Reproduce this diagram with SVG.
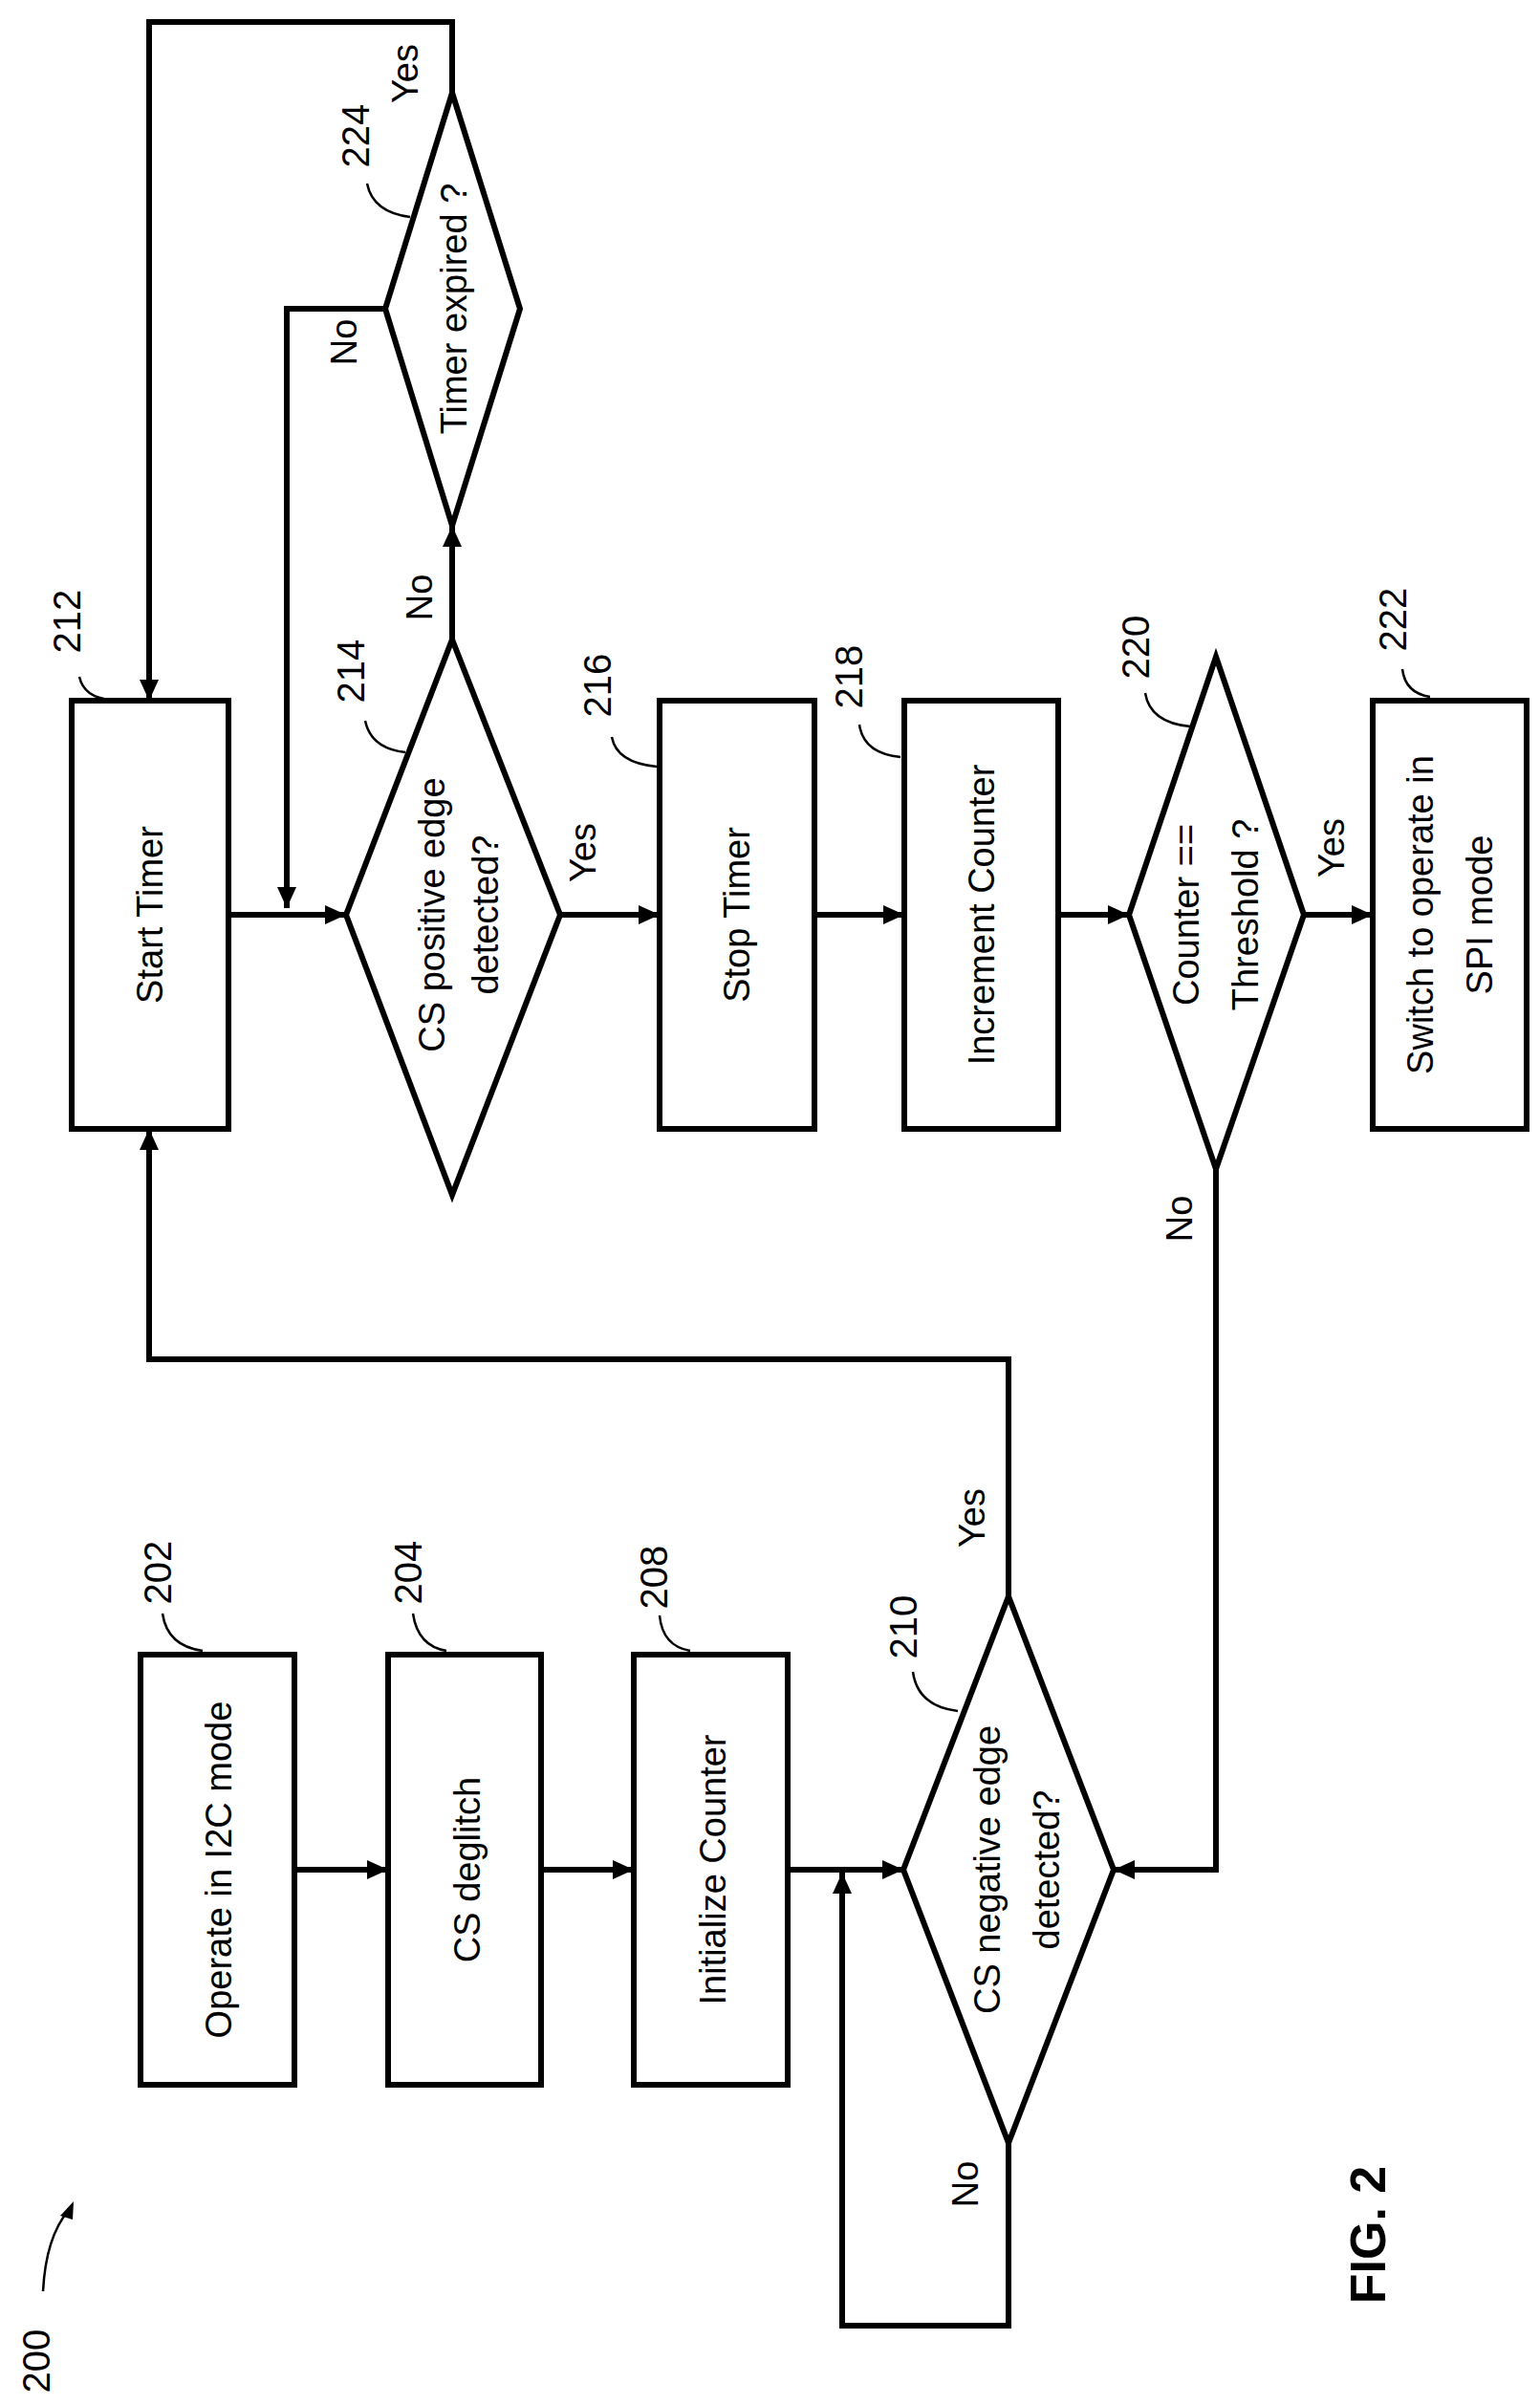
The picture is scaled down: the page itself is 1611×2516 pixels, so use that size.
<svg xmlns="http://www.w3.org/2000/svg" width="1611" height="2516" viewBox="0 0 1611 2516">
<style>
.n{fill:#fff;stroke:#000;stroke-width:6}
.c{fill:none;stroke:#000;stroke-width:6}
.l{fill:none;stroke:#000;stroke-width:2.5}
text{font-family:"Liberation Sans",Arial,sans-serif;font-size:38px;text-anchor:middle;dominant-baseline:central;fill:#000}
.f{font-size:52px;font-weight:bold}
.r{font-size:40px}
</style>
<defs>
<marker id="a" markerUnits="userSpaceOnUse" markerWidth="22" markerHeight="20" refX="22" refY="10" orient="auto"><path d="M0,0 L22,10 L0,20 z" fill="#000"/></marker>
</defs>
<rect width="1611" height="2516" fill="#fff"/>
<g id="connectors">
<path class="c" d="M308,1956 H406" marker-end="url(#a)"/>
<path class="c" d="M566,1956 H663" marker-end="url(#a)"/>
<path class="c" d="M824,1956 H945" marker-end="url(#a)"/>
<path class="c" d="M1055,2242 V2433 H881 V1959" marker-end="url(#a)"/>
<path class="c" d="M1272,1223 V1956 H1165" marker-end="url(#a)"/>
<path class="c" d="M1055,1670 V1422 H156 V1181" marker-end="url(#a)"/>
<path class="c" d="M239,957 H362" marker-end="url(#a)"/>
<path class="c" d="M473,669 V550" marker-end="url(#a)"/>
<path class="c" d="M473,97 V23 H156 V733" marker-end="url(#a)"/>
<path class="c" d="M403,323 H300 V950" marker-end="url(#a)"/>
<path class="c" d="M586,957 H690" marker-end="url(#a)"/>
<path class="c" d="M852,957 H946" marker-end="url(#a)"/>
<path class="c" d="M1107,957 H1181" marker-end="url(#a)"/>
<path class="c" d="M1364,957 H1436" marker-end="url(#a)"/>
<text transform="translate(424,77) rotate(-90)">Yes</text>
<text transform="translate(360,358) rotate(-90)">No</text>
<text transform="translate(439,625) rotate(-90)">No</text>
<text transform="translate(610,892) rotate(-90)">Yes</text>
<text transform="translate(1393,887) rotate(-90)">Yes</text>
<text transform="translate(1234,1275) rotate(-90)">No</text>
<text transform="translate(1017,1588) rotate(-90)">Yes</text>
<text transform="translate(1010,2285) rotate(-90)">No</text>
</g>
<g id="n202"><rect class="n" x="147" y="1731" width="161" height="450"/><text transform="translate(229,1956) rotate(-90)">Operate in I2C mode</text>
<path class="l" d="M170,1688 Q175,1722 212,1727"/><text class="r" transform="translate(165,1645) rotate(-90)">202</text></g>
<g id="n204"><rect class="n" x="406" y="1731" width="160" height="450"/><text transform="translate(489,1956) rotate(-90)">CS deglitch</text>
<path class="l" d="M432,1688 Q437,1722 467,1727"/><text class="r" transform="translate(427,1645) rotate(-90)">204</text></g>
<g id="n208"><rect class="n" x="663" y="1731" width="161" height="450"/><text transform="translate(746,1956) rotate(-90)">Initialize Counter</text>
<path class="l" d="M690,1690 Q693,1722 722,1727"/><text class="r" transform="translate(684,1650) rotate(-90)">208</text></g>
<g id="n210"><path class="n" d="M1055,1670 L1165,1956 L1055,2242 L945,1956 z"/><text transform="translate(1033,1956) rotate(-90)">CS negative edge</text><text transform="translate(1095,1956) rotate(-90)">detected?</text>
<path class="l" d="M955,1749 Q960,1785 1002,1790"/><text class="r" transform="translate(945,1702) rotate(-90)">210</text></g>
<g id="n212"><rect class="n" x="75" y="733" width="164" height="448"/><text transform="translate(157,957) rotate(-90)">Start Timer</text>
<path class="l" d="M83,708 Q88,730 116,732"/><text class="r" transform="translate(70,650) rotate(-90)">212</text></g>
<g id="n214"><path class="n" d="M473,669 L586,957 L473,1250 L362,957 z"/><text transform="translate(452,957) rotate(-90)">CS positive edge</text><text transform="translate(508,957) rotate(-90)">detected?</text>
<path class="l" d="M382,754 Q388,783 424,787"/><text class="r" transform="translate(367,702) rotate(-90)">214</text></g>
<g id="n224"><path class="n" d="M473,97 L544,323 L473,550 L403,323 z"/><text transform="translate(475,323) rotate(-90)">Timer expired ?</text>
<path class="l" d="M384,192 Q390,222 429,227"/><text class="r" transform="translate(372,142) rotate(-90)">224</text></g>
<g id="n216"><rect class="n" x="690" y="733" width="162" height="448"/><text transform="translate(771,957) rotate(-90)">Stop Timer</text>
<path class="l" d="M640,771 Q645,798 687,802"/><text class="r" transform="translate(625,717) rotate(-90)">216</text></g>
<g id="n218"><rect class="n" x="946" y="733" width="161" height="448"/><text transform="translate(1027,957) rotate(-90)">Increment Counter</text>
<path class="l" d="M899,758 Q903,788 942,792"/><text class="r" transform="translate(888,708) rotate(-90)">218</text></g>
<g id="n220"><path class="n" d="M1272,687 L1364,957 L1272,1223 L1181,957 z"/><text transform="translate(1241,957) rotate(-90)">Counter ==</text><text transform="translate(1303,957) rotate(-90)">Threshold ?</text>
<path class="l" d="M1198,725 Q1203,756 1245,760"/><text class="r" transform="translate(1188,677) rotate(-90)">220</text></g>
<g id="n222"><rect class="n" x="1436" y="733" width="161" height="448"/><text transform="translate(1486,957) rotate(-90)">Switch to operate in</text><text transform="translate(1548,957) rotate(-90)">SPI mode</text>
<path class="l" d="M1467,700 Q1470,725 1496,729"/><text class="r" transform="translate(1457,648) rotate(-90)">222</text></g>
<g id="fig">
<text class="r" transform="translate(38,2470) rotate(-90)">200</text>
<path class="l" d="M45,2397 Q48,2340 72,2312"/><path d="M77,2303 L63,2318 L76,2322 z" fill="#000"/>
<text class="f" transform="translate(1431,2338) rotate(-90)">FIG. 2</text>
</g>
</svg>
